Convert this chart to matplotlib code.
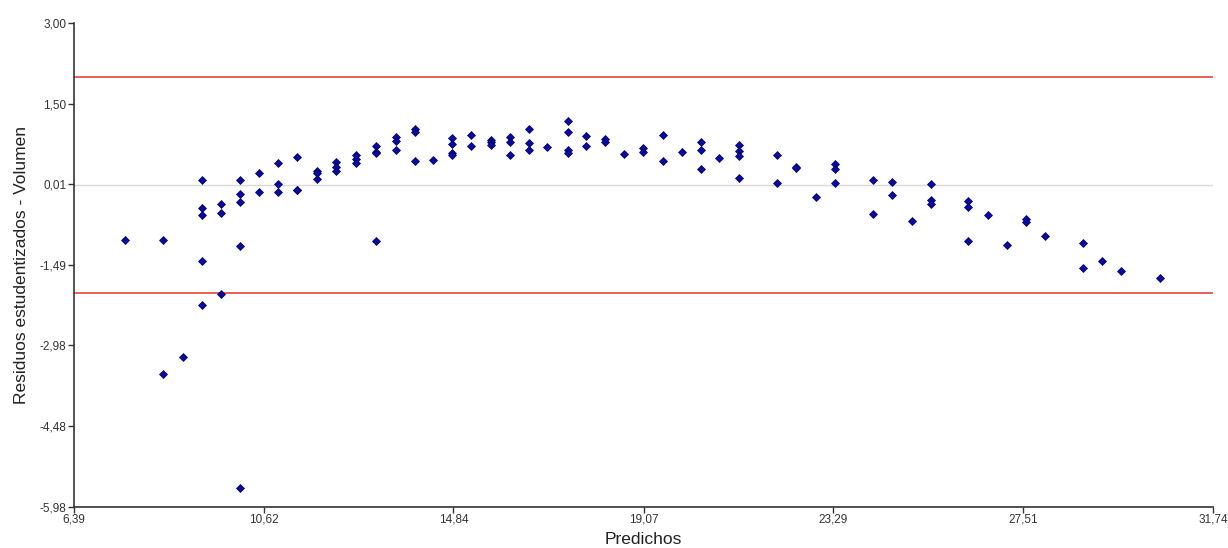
import numpy as np
import matplotlib
matplotlib.use("Agg")
import matplotlib.pyplot as plt

# Predichos vs residuos estudentizados
predichos = [
    7.53, 8.39, 8.39, 8.82,
    9.24, 9.24, 9.24, 9.24, 9.24,
    9.66, 9.66, 9.66,
    10.10, 10.10, 10.10, 10.10, 10.10,
    10.52, 10.52,
    10.94, 10.94, 10.94,
    11.36, 11.36, 11.36,
    11.81, 11.81, 11.81,
    12.22, 12.22, 12.22,
    12.67, 12.67, 12.67,
    13.11, 13.11, 13.11, 13.11,
    13.56, 13.56, 13.56,
    13.98, 13.98, 13.98,
    14.39,
    14.81, 14.81, 14.81, 14.81,
    15.24, 15.24,
    15.67, 15.67, 15.67,
    16.10, 16.10, 16.10,
    16.52, 16.52, 16.52,
    16.93,
    17.38, 17.38, 17.38, 17.38,
    17.80, 17.80,
    18.22, 18.22,
    18.64,
    19.06, 19.06,
    19.50, 19.50,
    19.93,
    20.35, 20.35, 20.35,
    20.76,
    21.20, 21.20, 21.20, 21.20,
    22.05, 22.05,
    22.47, 22.47,
    22.91,
    23.33, 23.33, 23.33,
    24.17, 24.17,
    24.59, 24.59,
    25.04,
    25.46, 25.46, 25.46,
    26.30, 26.30, 26.30,
    26.73,
    27.16,
    27.58, 27.58,
    28.00,
    28.85, 28.85,
    29.28,
    29.70,
    30.57,
]
residuos = [
    -1.02, -1.02, -3.51, -3.20,
    0.09, -0.44, -0.57, -1.42, -2.24,
    -0.35, -0.52, -2.03,
    0.09, -0.18, -0.32, -1.14, -5.63,
    0.22, -0.13,
    0.40, 0.02, -0.13,
    0.52, -0.10, -0.09,
    0.25, 0.22, 0.10,
    0.43, 0.33, 0.25,
    0.56, 0.48, 0.40,
    0.71, 0.61, 0.59, -1.04,
    0.88, 0.81, 0.65,
    1.03, 0.97, 0.435,
    0.45,
    0.87, 0.76, 0.58, 0.56,
    0.92, 0.72,
    0.83, 0.79, 0.73,
    0.89, 0.80, 0.55,
    1.04, 0.77, 0.65,
    0.70,
    1.18, 0.97, 0.645, 0.58,
    0.90, 0.72,
    0.84, 0.79,
    0.57,
    0.68, 0.61,
    0.92, 0.435,
    0.60,
    0.79, 0.65, 0.30,
    0.50,
    0.74, 0.62, 0.53, 0.12,
    0.55, 0.03,
    0.335, 0.305,
    -0.23,
    0.385, 0.29, 0.03,
    0.08, -0.54,
    0.05, -0.185,
    -0.67,
    0.01, -0.28, -0.36,
    -0.30, -0.42, -1.04,
    -0.56,
    -1.11,
    -0.64, -0.70,
    -0.96,
    -1.08, -1.54,
    -1.41,
    -1.61,
    -1.74,
]

x_ticks = [6.39, 10.62, 14.84, 19.07, 23.29, 27.51, 31.74]
x_labels = ["6,39", "10,62", "14,84", "19,07", "23,29", "27,51", "31,74"]
y_ticks = [-5.98, -4.48, -2.98, -1.49, 0.01, 1.50, 3.00]
y_labels = ["-5,98", "-4,48", "-2,98", "-1,49", "0,01", "1,50", "3,00"]
limites = [-2.0, 2.0]

plt.rcParams['font.family'] = ['Liberation Sans', 'DejaVu Sans']

fig = plt.figure(figsize=(12.28, 5.48), dpi=100)
ax = fig.add_axes([0.0599, 0.0748, 0.9279, 0.8832])

ax.axhline(0.0, color="#d9d9d9", lw=1, zorder=1)
for lim in limites:
    ax.axhline(lim, color="#e8302a", lw=1.1, zorder=1)

ax.plot(predichos, residuos, linestyle="none", marker="D", markersize=3.6,
        color="#0a0a9c", markeredgecolor="#00006a", markeredgewidth=0.5, zorder=3)

ax.set_xlim(6.39, 31.74)
ax.set_ylim(-5.98, 3.00)
ax.set_xticks(x_ticks)
ax.set_xticklabels(x_labels)
ax.set_yticks(y_ticks)
ax.set_yticklabels(y_labels)

ax.spines["top"].set_visible(False)
ax.spines["right"].set_visible(False)
for s in ["left", "bottom"]:
    ax.spines[s].set_color("#333333")
    ax.spines[s].set_linewidth(1.2)
ax.tick_params(axis="both", length=4, width=1, color="#333333",
               labelsize=8.5, labelcolor="#333333", pad=1)

ax.set_xlabel("Predichos", fontsize=12.5, color="#222222", labelpad=4)
ax.set_ylabel("Residuos estudentizados - Volumen", fontsize=12.5, color="#222222", labelpad=8)

fig.savefig("out.png", dpi=100)
